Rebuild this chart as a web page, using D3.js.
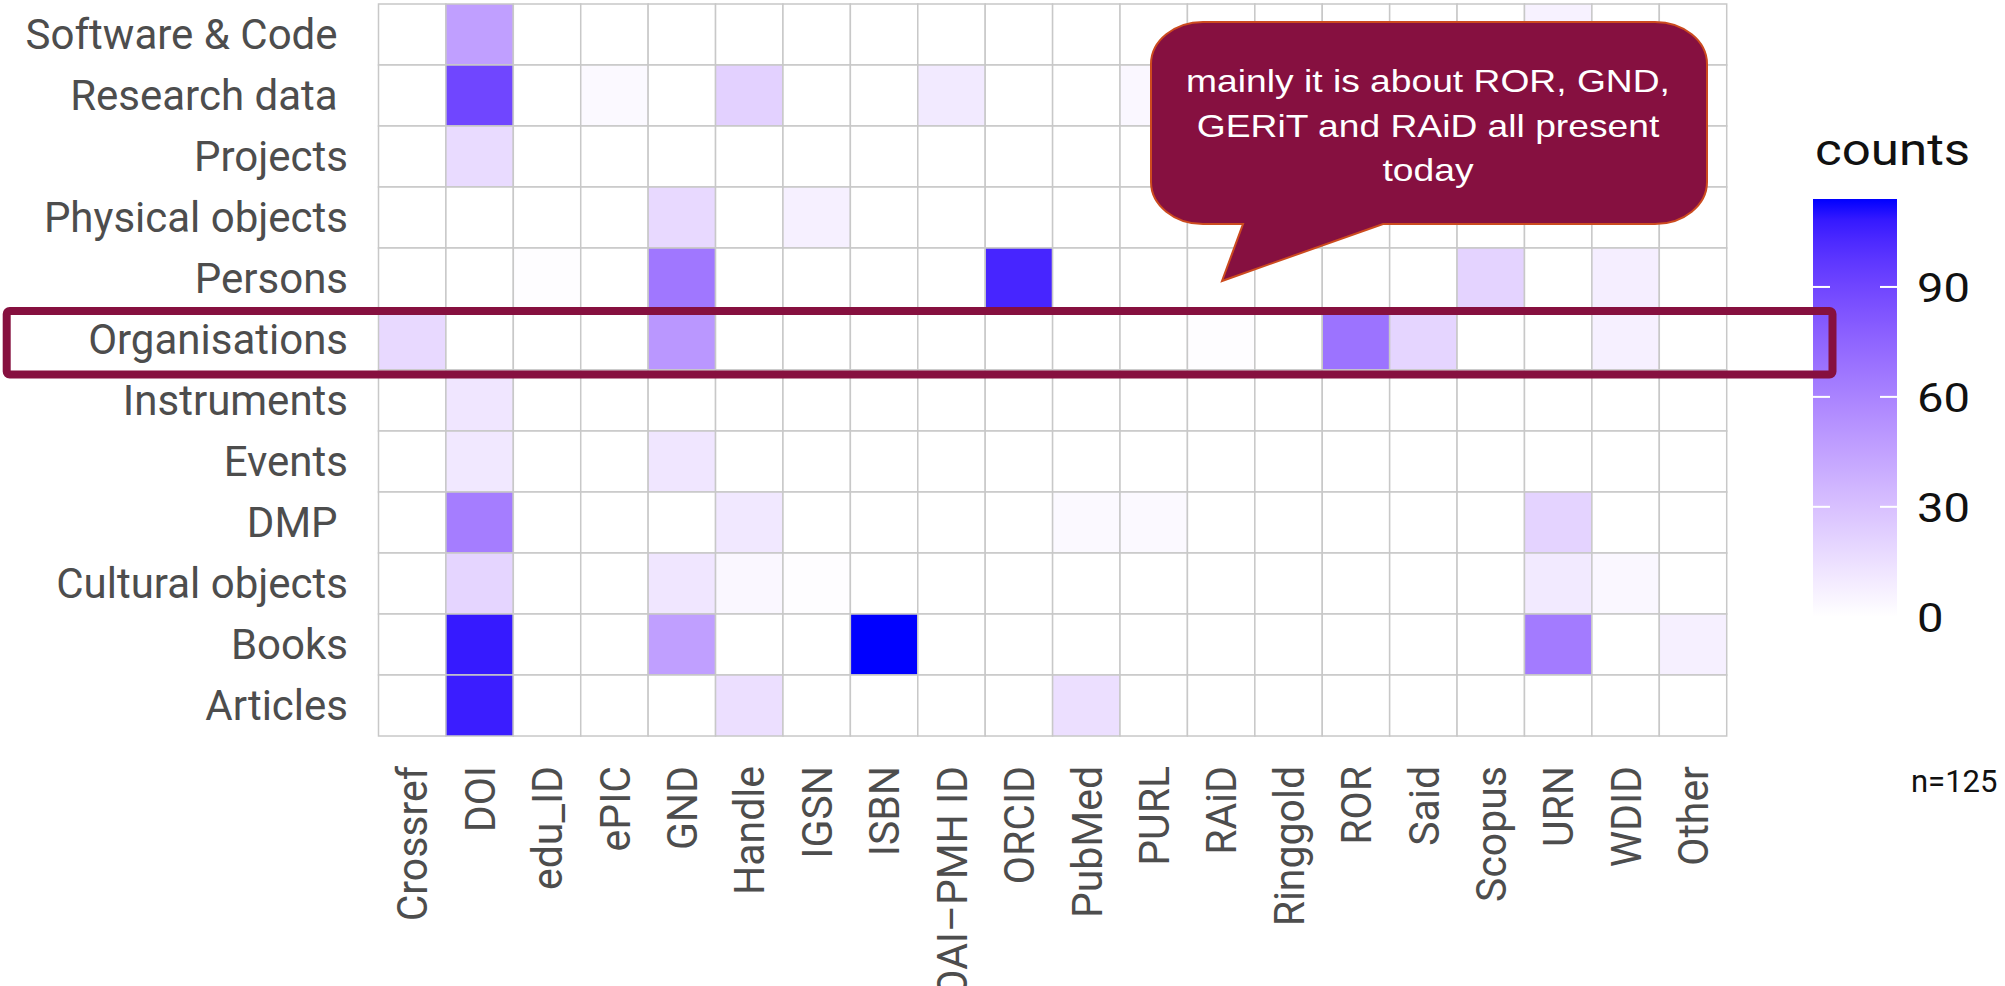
<!DOCTYPE html>
<html><head><meta charset="utf-8">
<script src="https://cdn.jsdelivr.net/npm/d3@7"></script>
<style>
html,body{margin:0;padding:0;background:#fff;}
svg{display:block;}
</style></head>
<body><svg id="chart" width="2005" height="986"></svg>
<script>
// ---- data ----
const xCategories = ["Crossref","DOI","edu_ID","ePIC","GND","Handle","IGSN","ISBN","OAI\u2013PMH ID","ORCID","PubMed","PURL","RAiD","Ringgold","ROR","Said","Scopus","URN","WDID","Other"];
const yCategories = ["Software & Code ","Research data ","Projects","Physical objects","Persons","Organisations","Instruments","Events","DMP ","Cultural objects","Books","Articles"];
// one array per resource type (row), values in xCategories order
const softwareCode    = [0,46,0,0,0,0,0,0,0,0,0,0,0,0,0,0,0,6,0,0];
const researchData    = [0,90,0,3,0,22,0,0,10,0,0,4,0,0,0,0,0,0,0,0];
const projects        = [0,17,0,0,0,0,0,0,0,0,0,0,0,0,0,0,0,0,0,0];
const physicalObjects = [0,0,0,0,18,0,7,0,0,0,0,0,0,0,0,0,0,0,0,0];
const persons         = [0,0,1,0,66,0,0,0,0,104,0,0,0,0,0,0,21,0,8,0];
const organisations   = [18,0,0,0,50,0,0,0,0,0,0,0,1,0,68,20,0,0,7,0];
const instruments     = [0,12,0,0,0,0,0,0,0,0,0,0,0,0,0,0,0,0,0,0];
const events          = [0,11,0,0,12,0,0,0,0,0,0,0,0,0,0,0,0,0,0,0];
const dmp             = [0,63,0,0,0,11,0,0,0,0,3,3,0,0,0,0,0,21,0,0];
const culturalObjects = [0,20,0,0,12,4,1,0,0,0,0,0,0,0,0,0,0,10,4,0];
const books           = [0,108,0,0,46,0,0,114,0,0,0,0,0,0,0,0,0,64,0,7];
const articles        = [0,107,0,0,0,15,0,0,0,0,15,0,0,0,0,0,0,0,0,0];
const rowSeries = [softwareCode,researchData,projects,physicalObjects,persons,organisations,instruments,events,dmp,culturalObjects,books,articles];
const countMax = 114;
const legendTicks = [0,30,60,90];
const legendTitle = "counts";
const sampleNote = "n=125";
const calloutLines = ["mainly it is about ROR, GND,","GERiT and RAiD all present","today"];

// ---- drawing ----
const svg = d3.select("#chart");
const x = d3.scaleBand().domain(xCategories).range([378.5, 1726.7]);
const y = d3.scaleBand().domain(yCategories).range([4, 736]);
const color = d3.scaleLinear().domain([0, countMax]).range(["#ffffff", "#0000ff"]).interpolate(d3.interpolateLab).clamp(true);

const cells = yCategories.flatMap((r, i) => xCategories.map((c, j) => ({r, c, v: rowSeries[i][j]})));
svg.append("g").selectAll("rect").data(cells).join("rect")
  .attr("x", d => x(d.c)).attr("y", d => y(d.r))
  .attr("width", x.bandwidth()).attr("height", y.bandwidth())
  .attr("fill", d => color(d.v))
  .attr("stroke", "#c8c8c8").attr("stroke-width", 1.5);

// y axis
const gy = svg.append("g").attr("transform", "translate(348,0)")
  .call(d3.axisLeft(y).tickSize(0).tickPadding(0));
gy.select(".domain").remove();
gy.selectAll("text")
  .attr("x", 0).attr("dy", "0.35em")
  .attr("font-family", "Roboto").attr("font-size", 42).attr("fill", "#4d4d4d")
  .style("white-space", "pre");

// x axis
const gx = svg.append("g").attr("transform", "translate(0,766)")
  .call(d3.axisBottom(x).tickSize(0).tickPadding(0));
gx.select(".domain").remove();
gx.selectAll("text")
  .attr("x", 0).attr("y", 0).attr("dy", "0.35em")
  .attr("text-anchor", "end")
  .attr("transform", "rotate(-90) scale(1,1.06)")
  .attr("font-family", "Roboto").attr("font-size", 41).attr("fill", "#4d4d4d");

// legend colour bar
const ly = d3.scaleLinear().domain([0, countMax]).range([616.75, 199]);
const defs = svg.append("defs");
const grad = defs.append("linearGradient").attr("id", "cbar")
  .attr("x1", 0).attr("y1", 1).attr("x2", 0).attr("y2", 0);
d3.range(0, 1.0001, 0.05).forEach(t => {
  grad.append("stop").attr("offset", t).attr("stop-color", color(t * countMax));
});
svg.append("rect").attr("x", 1813).attr("y", ly(countMax))
  .attr("width", 84).attr("height", ly(0) - ly(countMax))
  .attr("fill", "url(#cbar)");
const tickG = svg.append("g");
legendTicks.forEach(v => {
  tickG.append("line").attr("x1", 1813).attr("x2", 1830).attr("y1", ly(v)).attr("y2", ly(v))
    .attr("stroke", "#fff").attr("stroke-width", 2);
  tickG.append("line").attr("x1", 1880).attr("x2", 1897).attr("y1", ly(v)).attr("y2", ly(v))
    .attr("stroke", "#fff").attr("stroke-width", 2);
});
const gl = svg.append("g").attr("transform", "translate(1917,0)")
  .call(d3.axisRight(ly).tickValues(legendTicks).tickSize(0).tickPadding(0));
gl.select(".domain").remove();
gl.selectAll("text")
  .attr("x", 0).attr("dy", "0.35em")
  .attr("transform", "scale(1.15,1)")
  .attr("font-family", "Roboto").attr("font-size", 41).attr("fill", "#111");

svg.append("text").attr("transform", "translate(1815,165) scale(1.16,1)")
  .attr("font-family", "Roboto").attr("font-size", 44).attr("fill", "#111")
  .text(legendTitle);

svg.append("text").attr("x", 1911).attr("y", 792)
  .attr("font-family", "Roboto").attr("font-size", 31).attr("fill", "#111")
  .text(sampleNote);

// highlight of the Organisations row
svg.append("rect").attr("x", 6.7).attr("y", 311).attr("width", 1825.8).attr("height", 63.5)
  .attr("rx", 3).attr("fill", "none").attr("stroke", "#86103f").attr("stroke-width", 8);

// callout
const L = 1151, R = 1707, T = 22, B = 224, rx = 52, ry = 42;
const p = d3.path();
p.moveTo(L + rx, T);
p.lineTo(R - rx, T);
p.bezierCurveTo(R - rx * 0.45, T, R, T + ry * 0.45, R, T + ry);
p.lineTo(R, B - ry);
p.bezierCurveTo(R, B - ry * 0.45, R - rx * 0.45, B, R - rx, B);
p.lineTo(1383, B);
p.lineTo(1222, 281);
p.lineTo(1243, B);
p.lineTo(L + rx, B);
p.bezierCurveTo(L + rx * 0.45, B, L, B - ry * 0.45, L, B - ry);
p.lineTo(L, T + ry);
p.bezierCurveTo(L, T + ry * 0.45, L + rx * 0.45, T, L + rx, T);
p.closePath();
svg.append("path").attr("d", p.toString())
  .attr("fill", "#861040").attr("stroke", "#cc4b1f").attr("stroke-width", 2);
const baselines = [92, 137, 181];
svg.append("g").selectAll("text").data(calloutLines).join("text")
  .attr("transform", (d, i) => `translate(1428,${baselines[i]}) scale(1.22,1)`)
  .attr("text-anchor", "middle")
  .attr("font-family", "Liberation Sans, Arial, sans-serif").attr("font-size", 30.5)
  .attr("fill", "#fff")
  .text(d => d);
</script>
</body></html>
